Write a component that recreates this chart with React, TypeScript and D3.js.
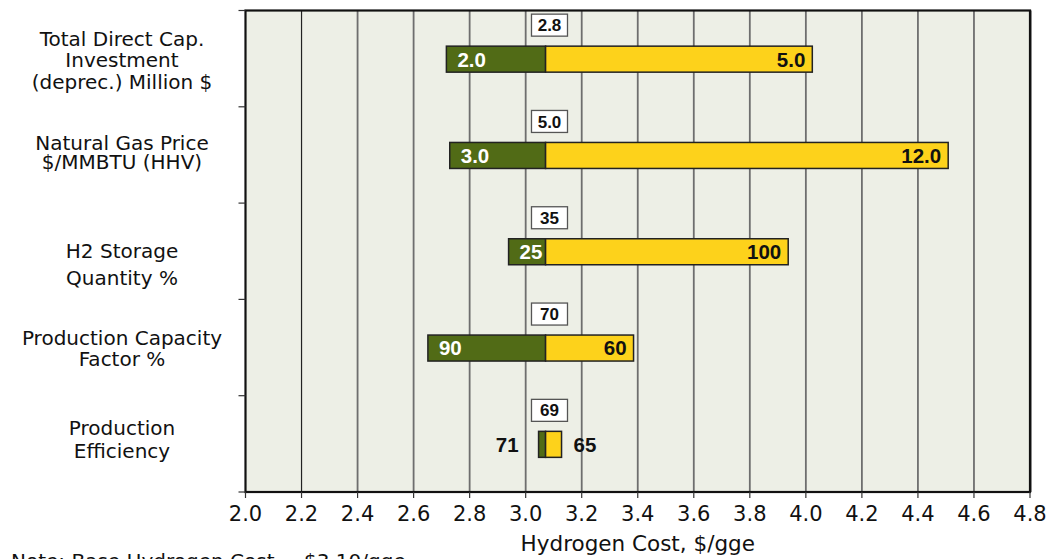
import * as d3 from 'd3';

// sensitivity parameters (label lines)
const categories = [
  ['Total Direct Cap.', 'Investment', '(deprec.) Million $'],
  ['Natural Gas Price', '$/MMBTU (HHV)'],
  ['H2 Storage', 'Quantity %'],
  ['Production Capacity', 'Factor %'],
  ['Production', 'Efficiency'],
];
// baseline offsets of each label line, relative to band top
const labelLines = [
  [35, 56, 78],
  [43, 62],
  [55, 82],
  [46, 67],
  [39, 62],
];

const baseCost = 3.071;
const lowCost = [2.717, 2.729, 2.939, 2.651, 3.046];
const highCost = [4.023, 4.508, 3.937, 3.385, 3.128];
const lowLabels = ['2.0', '3.0', '25', '90', '71'];
const highLabels = ['5.0', '12.0', '100', '60', '65'];
const baseLabels = ['2.8', '5.0', '35', '70', '69'];
const xTicks = [2.0, 2.2, 2.4, 2.6, 2.8, 3.0, 3.2, 3.4, 3.6, 3.8, 4.0, 4.2, 4.4, 4.6, 4.8];

const W = 1053;
const H = 559;
const left = 245.5;
const right = 1030;
const top = 10.5;
const bottom = 492;

const GREEN = '#516b16';
const YELLOW = '#fdd21b';
const BG = '#edefe6';
const textFont = '"DejaVu Sans", Verdana, sans-serif';
const numFont = '"Liberation Sans", Arial, sans-serif';

const App = () => {
  const x = d3.scaleLinear().domain([2.0, 4.8]).range([left, right]);
  const y = d3
    .scaleBand<number>()
    .domain(d3.range(categories.length))
    .range([top, bottom]);
  const barH = 26;
  const bandEdges = d3.range(categories.length + 1).map((i) => top + i * y.step());

  return (
    <svg
      width={W}
      height={H}
      style={{ position: 'absolute', left: 0, top: 0, background: '#fff' }}
      fontFamily={textFont}
    >
      <rect x={left} y={top} width={right - left} height={bottom - top} fill={BG} />

      {/* grid */}
      {xTicks.slice(1, -1).map((t, i) => (
        <line
          key={t}
          x1={x(t)}
          x2={x(t)}
          y1={top}
          y2={bottom}
          stroke={i === 0 ? '#222' : '#6e6e6e'}
          strokeWidth={i === 0 ? 1.2 : 1.8}
        />
      ))}

      {/* frame */}
      <line x1={right + 1.5} x2={right + 1.5} y1={top} y2={bottom} stroke="#999" strokeWidth={1} />
      <rect
        x={left}
        y={top}
        width={right - left}
        height={bottom - top}
        fill="none"
        stroke="#111"
        strokeWidth={2.2}
      />

      {/* y ticks */}
      {bandEdges.map((e, i) => (
        <line key={i} x1={left - 7} x2={left} y1={e} y2={e} stroke="#333" strokeWidth={1.2} />
      ))}

      {/* x ticks + labels */}
      {xTicks.map((t) => (
        <g key={t}>
          <line x1={x(t)} x2={x(t)} y1={bottom} y2={bottom + 6} stroke="#333" strokeWidth={1.2} />
          <text x={x(t)} y={521} textAnchor="middle" fontSize={21} fill="#111">
            {t.toFixed(1)}
          </text>
        </g>
      ))}
      <text x={(left + right) / 2} y={551} textAnchor="middle" fontSize={21.5} fill="#111">
        Hydrogen Cost, $/gge
      </text>

      {/* category labels */}
      {categories.map((lines, i) => (
        <text key={i} textAnchor="middle" fontSize={20} fill="#111">
          {lines.map((ln, j) => (
            <tspan key={j} x={122} y={bandEdges[i] + labelLines[i][j]}>
              {ln}
            </tspan>
          ))}
        </text>
      ))}

      {/* bars */}
      {categories.map((_, i) => {
        const cy = (y(i) as number) + y.bandwidth() / 2 + 0.5;
        const x0 = x(lowCost[i]);
        const xb = x(baseCost);
        const x1 = x(highCost[i]);
        const narrow = x1 - x0 < 60;
        const bx = x(3.085);
        return (
          <g key={i} fontFamily={numFont} fontWeight="bold">
            <rect x={x0} y={cy - barH / 2} width={xb - x0} height={barH} fill={GREEN} stroke="#222" strokeWidth={1.5} />
            <rect x={xb} y={cy - barH / 2} width={x1 - xb} height={barH} fill={YELLOW} stroke="#222" strokeWidth={1.5} />
            <text
              x={narrow ? x0 - 20 : x0 + 11}
              y={cy}
              dy="0.36em"
              textAnchor={narrow ? 'end' : 'start'}
              fontSize={20.5}
              fill={narrow ? '#111' : '#fff'}
            >
              {lowLabels[i]}
            </text>
            <text
              x={narrow ? x1 + 12 : x1 - 7}
              y={cy}
              dy="0.36em"
              textAnchor={narrow ? 'start' : 'end'}
              fontSize={20.5}
              fill="#111"
            >
              {highLabels[i]}
            </text>
            <rect x={bx - 18} y={cy - 45} width={36} height={22} fill="#fff" stroke="#555" strokeWidth={1.3} />
            <text x={bx} y={cy - 34} dy="0.36em" textAnchor="middle" fontSize={17} fill="#111">
              {baseLabels[i]}
            </text>
          </g>
        );
      })}

      <text x={11} y={568} fontSize={20} fill="#111">
        Note: Base Hydrogen Cost = $3.10/gge
      </text>
    </svg>
  );
};

export default App;
